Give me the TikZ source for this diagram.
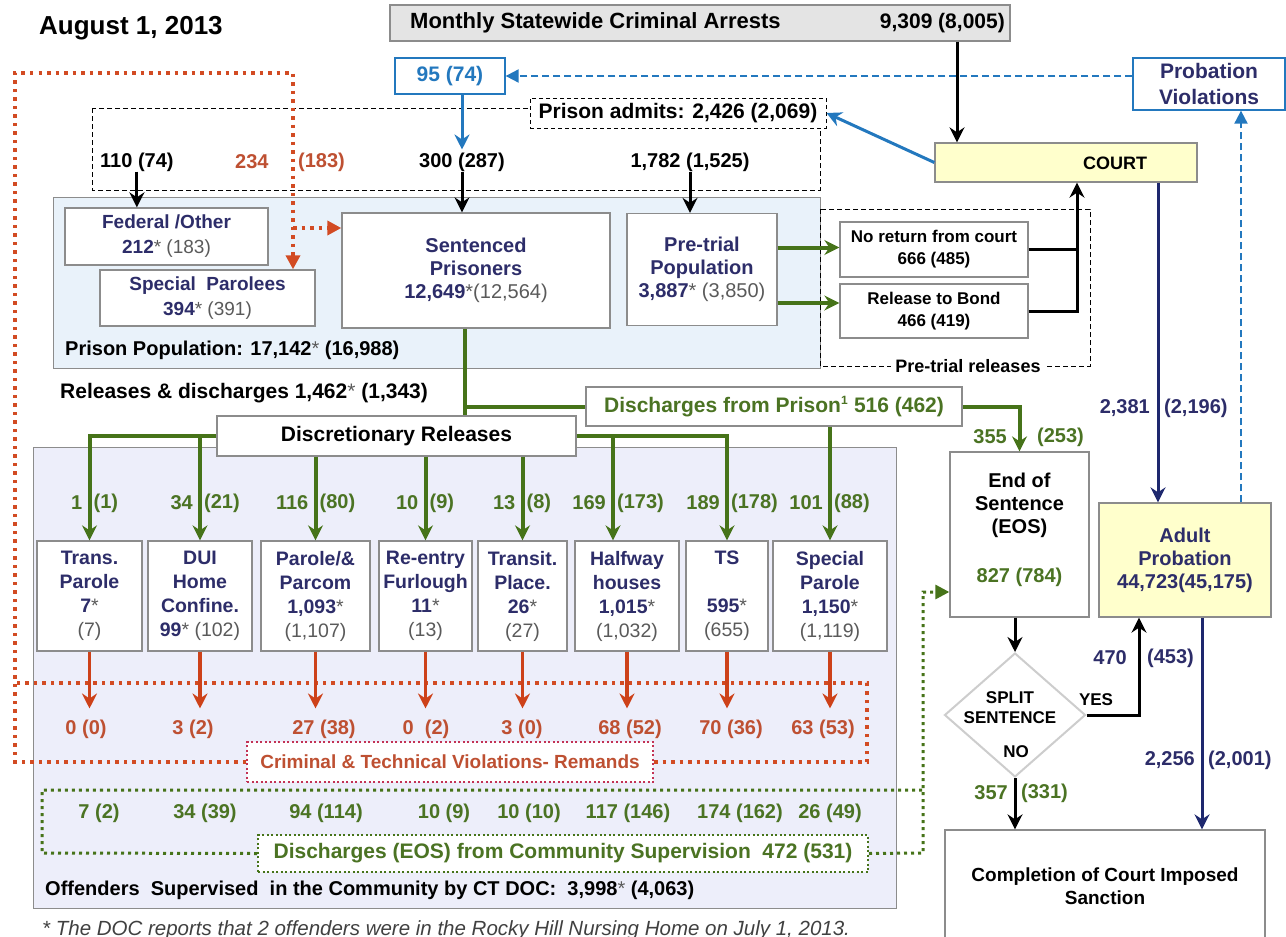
\documentclass[tikz,border=0pt]{standalone}
\usepackage{fontspec}
\setmainfont{Liberation Sans}
\usetikzlibrary{arrows.meta,shapes.geometric}
\definecolor{navy}{RGB}{45,45,105}
\definecolor{navyarrow}{RGB}{30,40,110}
\definecolor{pgray}{RGB}{90,90,90}
\definecolor{boxgray}{RGB}{140,140,140}
\definecolor{gtext}{RGB}{75,115,35}
\definecolor{garr}{RGB}{70,115,25}
\definecolor{rarr}{RGB}{205,65,25}
\definecolor{rtext}{RGB}{190,80,50}
\definecolor{rdot}{RGB}{210,75,35}
\definecolor{crimb}{RGB}{195,50,85}
\definecolor{bluel}{RGB}{35,120,190}
\definecolor{pfill}{RGB}{233,242,250}
\definecolor{cfill}{RGB}{237,238,250}
\definecolor{yfill}{RGB}{255,255,204}
\definecolor{afill}{RGB}{228,228,228}
\definecolor{dgray}{RGB}{205,205,205}
\newcommand\fs[2]{\fontsize{#1}{#2}\selectfont}
\newcommand\pg[1]{\textcolor{pgray}{\mdseries #1}}
\begin{document}
\begin{tikzpicture}[x=1pt,y=-1pt,
  box/.style={draw=boxgray, line width=1.3pt, fill=white, align=center, inner sep=0pt},
  lab/.style={inner sep=0pt, font=\bfseries\fs{20}{24}},
  arrtip/.style={-{Stealth[length=15pt,width=15pt,inset=5pt]}},
  garrow/.style={draw=garr, line width=4pt, arrtip},
  gline/.style={draw=garr, line width=4pt},
  karrow/.style={draw=black, line width=3pt, arrtip},
  kline/.style={draw=black, line width=3pt},
  rarrow/.style={draw=rarr, line width=3.5pt, arrtip},
  narrow/.style={draw=navyarrow, line width=3pt, arrtip},
  barrow/.style={draw=bluel, line width=3pt, arrtip},
  bdash/.style={draw=bluel, line width=2pt, dash pattern=on 7pt off 4pt, -{Triangle[length=13pt,width=13pt]}},
  rdots/.style={draw=rdot, line width=3.5pt, dash pattern=on 3.5pt off 5pt},
  gdots/.style={draw=garr, line width=3pt, dash pattern=on 3pt off 4pt},
  kdash/.style={draw=black, line width=1pt, dash pattern=on 5pt off 3pt},
  otri/.style={-{Triangle[length=14pt,width=14pt]}},
  gl/.style={lab, text=gtext},
  rl/.style={lab, text=rtext},
  nl/.style={lab, text=navy}
]
\useasboundingbox (0,0) rectangle (1286,937);
\clip (0,0) rectangle (1286,937);

% ---------- background regions ----------
\node[draw=boxgray, line width=1pt, fill=pfill, minimum width=767pt, minimum height=171pt, inner sep=0pt] (ppop) at (436.5,282.5) {};
\node[draw=boxgray, line width=1pt, fill=cfill, minimum width=863pt, minimum height=461pt, inner sep=0pt] (comm) at (464.5,677.5) {};
\draw[kdash] (92,108) rectangle (820,190);
\draw[kdash] (820,209) rectangle (1090,366);

% ---------- title and top ----------
\node[lab, font=\bfseries\fs{26}{30}, anchor=west] (title) at (39,28) {August 1, 2013};
\node[box, fill=afill, minimum width=620pt, minimum height=36pt] (arrests) at (700,23) {};
\node[lab, font=\bfseries\fs{22}{24}, anchor=west] (arrT) at (410,23) {Monthly Statewide Criminal Arrests};
\node[lab, font=\bfseries\fs{21}{24}, anchor=east] (arrN) at (1005,23) {9,309 (8,005)};
\node[box, draw=bluel, minimum width=110pt, minimum height=36pt, text=bluel, font=\bfseries\fs{21}{24}] (v95) at (450,76) {95 (74)};
\node[box, draw=bluel, minimum width=152pt, minimum height=52pt, text=navy, font=\bfseries\fs{21}{26}] (probviol) at (1209,84) {Probation\\Violations};
\node[box, draw=black, line width=1pt, dash pattern=on 4pt off 3pt, minimum width=296pt, minimum height=30pt, font=\bfseries\fs{21}{24}] (admits) at (678,113) {Prison admits: 2,426 (2,069)};

\node[lab, font=\bfseries\fs{20}{24}, anchor=west] (n110) at (100,162) {110 (74)};
\node[lab, font=\bfseries\fs{20}{24}, text=rtext, anchor=west] (n234) at (235,162) {234};
\node[lab, font=\bfseries\fs{20}{24}, text=rtext, anchor=west] (n183) at (298,162) {(183)};
\node[lab, font=\bfseries\fs{20}{24}] (n300) at (462,162) {300 (287)};
\node[lab, font=\bfseries\fs{20}{24}] (n1782) at (690,162) {1,782 (1,525)};

% ---------- prison ----------
\node[box, minimum width=203pt, minimum height=57pt, text=navy, font=\bfseries\fs{19}{25}] (fed) at (166.5,236.5) {Federal /Other\\212\pg{* (183)}};
\node[box, minimum width=215pt, minimum height=56pt, text=navy, font=\bfseries\fs{19}{25}] (spp) at (207.5,298) {Special\ \ Parolees\\394\pg{* (391)}};
\node[box, minimum width=268pt, minimum height=115pt, text=navy, font=\bfseries\fs{20}{23}] (sent) at (476,270.5) {Sentenced\\Prisoners\\12,649\pg{*(12,564)}};
\node[box, minimum width=150pt, minimum height=112pt, text=navy, font=\bfseries\fs{20}{23}] (pre) at (702,269.5) {Pre-trial\\Population\\3,887\pg{* (3,850)}};
\node[lab, anchor=west] (poplab) at (65,350) {Prison Population: 17,142\pg{*} (16,988)};

\node[box, minimum width=188pt, minimum height=55pt, font=\bfseries\fs{17}{22}] (noret) at (934,249.5) {No return from court\\666 (485)};
\node[box, minimum width=188pt, minimum height=54pt, font=\bfseries\fs{17}{22}] (bond) at (934,311) {Release to Bond\\466 (419)};
\node[lab, fill=white, inner xsep=4pt, font=\bfseries\fs{18}{22}] (prl) at (968,366) {Pre-trial releases};

\node[box, fill=yfill, minimum width=262pt, minimum height=39pt] (court) at (1066,162.5) {};
\node[lab, font=\bfseries\fs{18}{22}] (courtT) at (1115,163) {COURT};

% ---------- releases ----------
\node[lab, font=\bfseries\fs{21}{24}, anchor=west] (rel) at (60,393) {Releases \& discharges 1,462\pg{*} (1,343)};
\node[box, minimum width=376pt, minimum height=39pt, text=gtext, font=\bfseries\fs{21}{24}] (dis) at (774,406.5) {Discharges from Prison\textsuperscript{\fs{12}{12}1} 516 (462)};

% ---------- dotted loops ----------
\coordinate (rtop) at (293,73);
\coordinate (rb) at (293,228);
\node[box, draw=crimb, dash pattern=on 2pt off 2.5pt, line width=2pt, text=rtext, font=\bfseries\fs{19}{22}, minimum width=406pt, minimum height=40pt] (crim) at (450,762) {Criminal \& Technical Violations- Remands};
\draw[rdots, otri] (crim.west) -- (15,762) -- (15,73) -- (rtop) -- (rtop |- spp.north);
\draw[rdots] (crim.east) -- (867,762) -- (867,683) -- (15,683);
\draw[rdots, otri] (rb) -- (rb -| sent.west);

\node[box, draw=garr, dash pattern=on 2pt off 2.5pt, line width=2pt, text=gtext, font=\bfseries\fs{21}{24}, minimum width=610pt, minimum height=37pt] (eosd) at (563,853.5) {Discharges (EOS) from Community Supervision\ \ 472 (531)};
\node[box, minimum width=139pt, minimum height=165pt] (eos) at (1019.5,534.5) {};
\coordinate (gc) at (923,853);
\coordinate (ge) at ([yshift=-57.5pt]eos.west);
\draw[gdots] (eosd.west) -- (42,853) -- (42,790) -- (923,790);
\draw[gdots, otri] (eosd.east) -- (gc) -- (gc |- ge) -- (ge);

% ---------- discretionary ----------
\node[box, minimum width=359pt, minimum height=40pt, font=\bfseries\fs{21}{24}] (disc) at (396.5,436) {Discretionary Releases};

\begin{scope}[every node/.style={box, minimum height=110pt, text=navy, font=\bfseries\fs{19.5}{24}}]
\node[minimum width=105pt] (tp)  at (89.5,596)  {Trans.\\Parole\\7\pg{*}\\\pg{(7)}};
\node[minimum width=104pt] (dui) at (200,596)   {DUI\\Home\\Confine.\\99\pg{* (102)}};
\node[minimum width=109pt] (par) at (315.5,596) {Parole/\&\\Parcom\\1,093\pg{*}\\\pg{(1,107)}};
\node[minimum width=93pt]  (ref) at (425.5,596) {Re-entry\\Furlough\\11\pg{*}\\\pg{(13)}};
\node[minimum width=89pt]  (trp) at (522.5,596) {Transit.\\Place.\\26\pg{*}\\\pg{(27)}};
\node[minimum width=104pt] (hh)  at (627,596)   {Halfway\\houses\\1,015\pg{*}\\\pg{(1,032)}};
\node[minimum width=82pt]  (ts)  at (727,596)   {TS\\\mbox{}\\595\pg{*}\\\pg{(655)}};
\node[minimum width=114pt] (sp)  at (830,596)   {Special\\Parole\\1,150\pg{*}\\\pg{(1,119)}};
\end{scope}

% green release arrows
\coordinate (sx) at ([xshift=-11pt]sent.south);
\coordinate (hx) at ([xshift=-14pt]hh.north);
\draw[gline] (sx) -- (sx |- disc.north);
\draw[gline] (sx |- dis.west) -- (dis.west);
\draw[garrow] (dis.east) -| (eos.north);
\draw[garrow] (disc.west) -| (tp.north);
\draw[garrow] (disc.west -| dui.north) -- (dui.north);
\draw[garrow] (disc.south -| par.north) -- (par.north);
\draw[garrow] (disc.south -| ref.north) -- (ref.north);
\draw[garrow] (disc.south -| trp.north) -- (trp.north);
\draw[garrow] (disc.east) -| (ts.north);
\draw[garrow] (disc.east -| hx) -- (hx);
\draw[garrow] (dis.south -| sp.north) -- (sp.north);

% green labels
\foreach \x/\a/\b in {89.5/1/(1), 200/34/(21), 315.5/116/(80), 425.5/10/(9), 522.5/13/(8), 613/169/(173), 727/189/(178), 830/101/(88)}{
  \node[gl, anchor=east] at (\x-7,503) {\a};
  \node[gl, anchor=west] at (\x+4,503) {\b};
}

% red labels and arrows
\node[rl] (r1) at (86,729) {0 (0)};
\node[rl] (r2) at (193,729) {3 (2)};
\node[rl] (r3) at (324,729) {27 (38)};
\node[rl] (r4) at (426,729) {0\ \ (2)};
\node[rl] (r5) at (522,729) {3 (0)};
\node[rl] (r6) at (630,729) {68 (52)};
\node[rl] (r7) at (731,729) {70 (36)};
\node[rl] (r8) at (823,729) {63 (53)};
\foreach \b/\r in {tp/r1, dui/r2, par/r3, ref/r4, trp/r5, hh/r6, ts/r7, sp/r8}{
  \draw[rarrow, shorten >=11pt] (\b.south) -- (\b.south |- \r.north);
}

% green labels row 2
\node[gl] (g1) at (99,813) {7 (2)};
\node[gl] (g2) at (205,813) {34 (39)};
\node[gl] (g3) at (326,813) {94 (114)};
\node[gl] (g4) at (444,813) {10 (9)};
\node[gl] (g5) at (529,813) {10 (10)};
\node[gl] (g6) at (628,813) {117 (146)};
\node[gl] (g7) at (740,813) {174 (162)};
\node[gl] (g8) at (830,813) {26 (49)};

\node[lab, anchor=west] (offl) at (45,890) {Offenders\ \ Supervised\ \ in the Community by CT DOC:\ \ 3,998\pg{*} (4,063)};
\node[inner sep=0pt, anchor=base west, font=\itshape\fs{20.5}{24}, text=black!75] (foot) at (42,935) {* The DOC reports that 2 offenders were in the Rocky Hill Nursing Home on July 1, 2013.};

% ---------- right side ----------
\node[lab, align=center, font=\bfseries\fs{20}{23}] (eosT) at (1019.5,505) {End of\\Sentence\\(EOS)};
\node[gl] (eosN) at (1019.5,577) {827 (784)};
\node[box, fill=yfill, minimum width=172pt, minimum height=114pt, text=navy, font=\bfseries\fs{20}{23}] (adult) at (1185,560) {Adult\\Probation\\44,723(45,175)};
\node[diamond, draw=dgray, line width=2pt, fill=white, minimum width=141pt, minimum height=124pt, inner sep=0pt] (dia) at (1015,715) {};
\node[lab, align=center, font=\bfseries\fs{17}{20}] (diaT) at (1010,708) {SPLIT\\SENTENCE};
\node[lab, font=\bfseries\fs{17}{20}] (diaNo) at (1016,752) {NO};
\node[lab, font=\bfseries\fs{17}{20}] (yes) at (1096,700) {YES};
\node[box, minimum width=320pt, minimum height=112pt, font=\bfseries\fs{19}{23}] (comp) at (1105,886) {Completion of Court Imposed\\Sanction};

% connectors top/right
\draw[karrow] ([xshift=257pt]arrests.south) -- ([xshift=257pt]arrests.south |- court.north);
\draw[bdash] (probviol.west |- v95.east) -- (v95.east);
\draw[bdash] ([xshift=56pt]adult.north) -- ([xshift=56pt]adult.north |- probviol.south);
\draw[barrow] (court.west) -- (admits.east);
\draw[barrow, shorten >=3pt] (v95.south -| n300.north) -- (n300.north);
\draw[karrow] (n110.south) -- (n110.south |- fed.north);
\draw[karrow] (n300.south) -- (n300.south |- sent.north);
\draw[karrow] (n1782.south) -- (n1782.south |- pre.north);

\coordinate (nw) at ([yshift=2pt]noret.west);
\coordinate (bw) at ([yshift=8pt]bond.west);
\draw[garrow] (pre.east |- nw) -- (nw);
\draw[garrow] (pre.east |- bw) -- (bw);
\coordinate (cx) at ([xshift=11pt]court.south);
\draw[kline] (noret.east) -- (noret.east -| cx);
\draw[karrow] (bond.east) -| (cx);

\draw[narrow] ([xshift=92pt]court.south) -- ([xshift=92pt]court.south |- adult.north);
\node[nl, anchor=east] (l2381) at (1150,408) {2,381};
\node[nl, anchor=west] (l2196) at (1164,408) {(2,196)};
\node[gl, anchor=east] (l355) at (1007,437) {355};
\node[gl, anchor=west] (l253) at (1037,437) {(253)};

\draw[karrow] (dia.north |- eos.south) -- (dia.north);
\coordinate (yx) at ([xshift=-46pt]adult.south);
\draw[karrow] (dia.east) -| (yx);
\node[nl, anchor=east] (l470) at (1127,658) {470};
\node[nl, anchor=west] (l453) at (1147,658) {(453)};
\draw[karrow] (dia.south) -- (dia.south |- comp.north);
\node[gl, anchor=east] (l357) at (1008,793) {357};
\node[gl, anchor=west] (l331) at (1021,793) {(331)};
\draw[narrow] ([xshift=17pt]adult.south) -- ([xshift=17pt]adult.south |- comp.north);
\node[nl, anchor=east] (l2256) at (1195,760) {2,256};
\node[nl, anchor=west] (l2001) at (1208,760) {(2,001)};
\end{tikzpicture}
\end{document}
